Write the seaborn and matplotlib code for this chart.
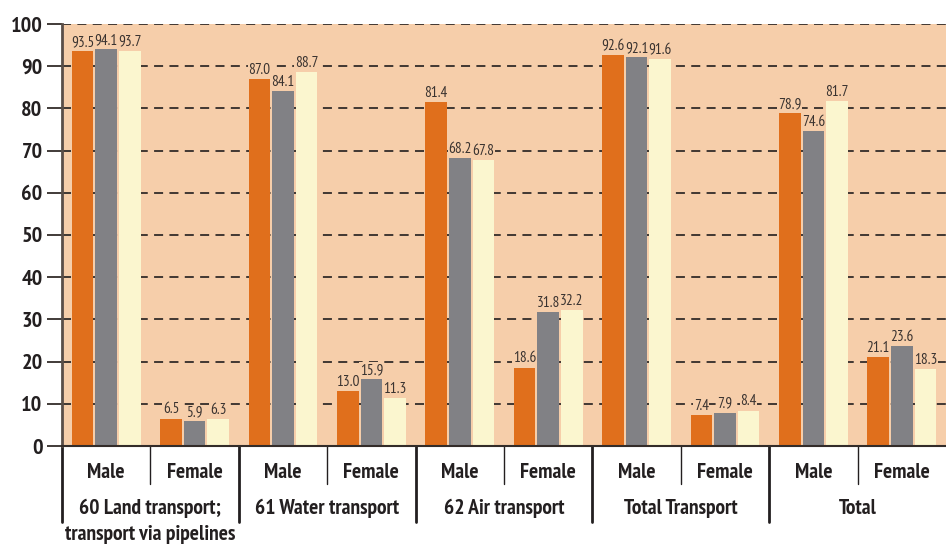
import matplotlib
matplotlib.use("Agg")
import matplotlib.pyplot as plt
import matplotlib.transforms as mtransforms
from matplotlib import font_manager
import seaborn as sns
import pandas as pd

categories = ["60 Land transport;\ntransport via pipelines", "61 Water transport",
              "62 Air transport", "Total Transport", "Total"]
sexes = ["Male", "Female"]
series_names = ["A", "B", "C"]
series_a = [93.5, 6.5, 87.0, 13.0, 81.4, 18.6, 92.6, 7.4, 78.9, 21.1]
series_b = [94.1, 5.9, 84.1, 15.9, 68.2, 31.8, 92.1, 7.9, 74.6, 23.6]
series_c = [93.7, 6.3, 88.7, 11.3, 67.8, 32.2, 91.6, 8.4, 81.7, 18.3]
colors = ["#E06F1C", "#818185", "#FBF6CF"]
bg = "#F6CEAA"

names = {f.name for f in font_manager.fontManager.ttflist}
font = "DejaVu Sans"
for cand in ["PT Sans Narrow", "Roboto Condensed", "Asap Condensed", "Archivo Narrow",
             "Barlow Semi Condensed", "Barlow Condensed"]:
    if cand in names:
        font = cand
        break

sns.set_theme(style="white")
plt.rcParams["font.family"] = [font, "DejaVu Sans"]

slots = [f"{c}|{s}" for c in categories for s in sexes]
rows = []
for name, vals in zip(series_names, [series_a, series_b, series_c]):
    for slot, v in zip(slots, vals):
        rows.append({"slot": slot, "value": v, "series": name})
df = pd.DataFrame(rows)

fig = plt.figure(figsize=(9.46, 5.47), dpi=100)
ax = fig.add_axes([62/946, 101/547, 1 - 62/946, 422/547])
ax.set_facecolor(bg)

sns.barplot(data=df, x="slot", y="value", hue="series", order=slots,
            hue_order=series_names, palette=colors, width=0.8, gap=0.08,
            saturation=1, legend=False, ax=ax, linewidth=0)

for cont, vals in zip(ax.containers, [series_a, series_b, series_c]):
    texts = ax.bar_label(cont, labels=[f"{v:.1f}" for v in vals], padding=1.5,
                         fontsize=11, color="#3a3330")
    for t in texts:
        t.set_bbox(dict(facecolor=bg, edgecolor="none", pad=0.3))

ax.set_ylim(0, 100)
ax.set_xlim(-0.5, len(slots) - 0.5)
ax.set_yticks(range(0, 101, 10))
ax.set_yticklabels([str(t) for t in range(0, 101, 10)], fontsize=16,
                   fontweight="bold", color="#231f20")
ax.yaxis.grid(True, linestyle=(0, (5, 3.5)), color="#332c29", linewidth=1.3)
ax.set_axisbelow(True)
ax.tick_params(axis="y", length=11, width=1.3, color="#332c29", pad=3, left=True)
ax.tick_params(axis="x", bottom=False, labelbottom=False)
ax.set_xlabel("")
ax.set_ylabel("")
for s in ["top", "right"]:
    ax.spines[s].set_visible(False)
ax.spines["left"].set_color("#5a4e48")
ax.spines["left"].set_linewidth(2)
ax.spines["bottom"].set_color("#332c29")
ax.spines["bottom"].set_linewidth(1.5)

trans = mtransforms.blended_transform_factory(ax.transData, ax.transAxes)
for i, slot in enumerate(slots):
    cat, sex = slot.split("|")
    ax.text(i, -0.062, sex, transform=trans, ha="center", va="center",
            fontsize=15.5, fontweight="bold", color="#231f20")
for j, cat in enumerate(categories):
    lines = cat.split("\n")
    ax.text(2 * j + 0.5, -0.147, lines[0], transform=trans, ha="center", va="center",
            fontsize=15.5, fontweight="bold", color="#231f20")
    if len(lines) > 1:
        ax.text(2 * j + 0.5, -0.21, lines[1], transform=trans, ha="center", va="center",
                fontsize=15.5, fontweight="bold", color="#231f20")
    ax.plot([2 * j - 0.5, 2 * j - 0.5], [0, -0.18], transform=trans, color="#231f20",
            linewidth=2, clip_on=False)
    ax.plot([2 * j + 0.5, 2 * j + 0.5], [0, -0.09], transform=trans, color="#231f20",
            linewidth=1, clip_on=False)

fig.savefig("out.png", dpi=100)
